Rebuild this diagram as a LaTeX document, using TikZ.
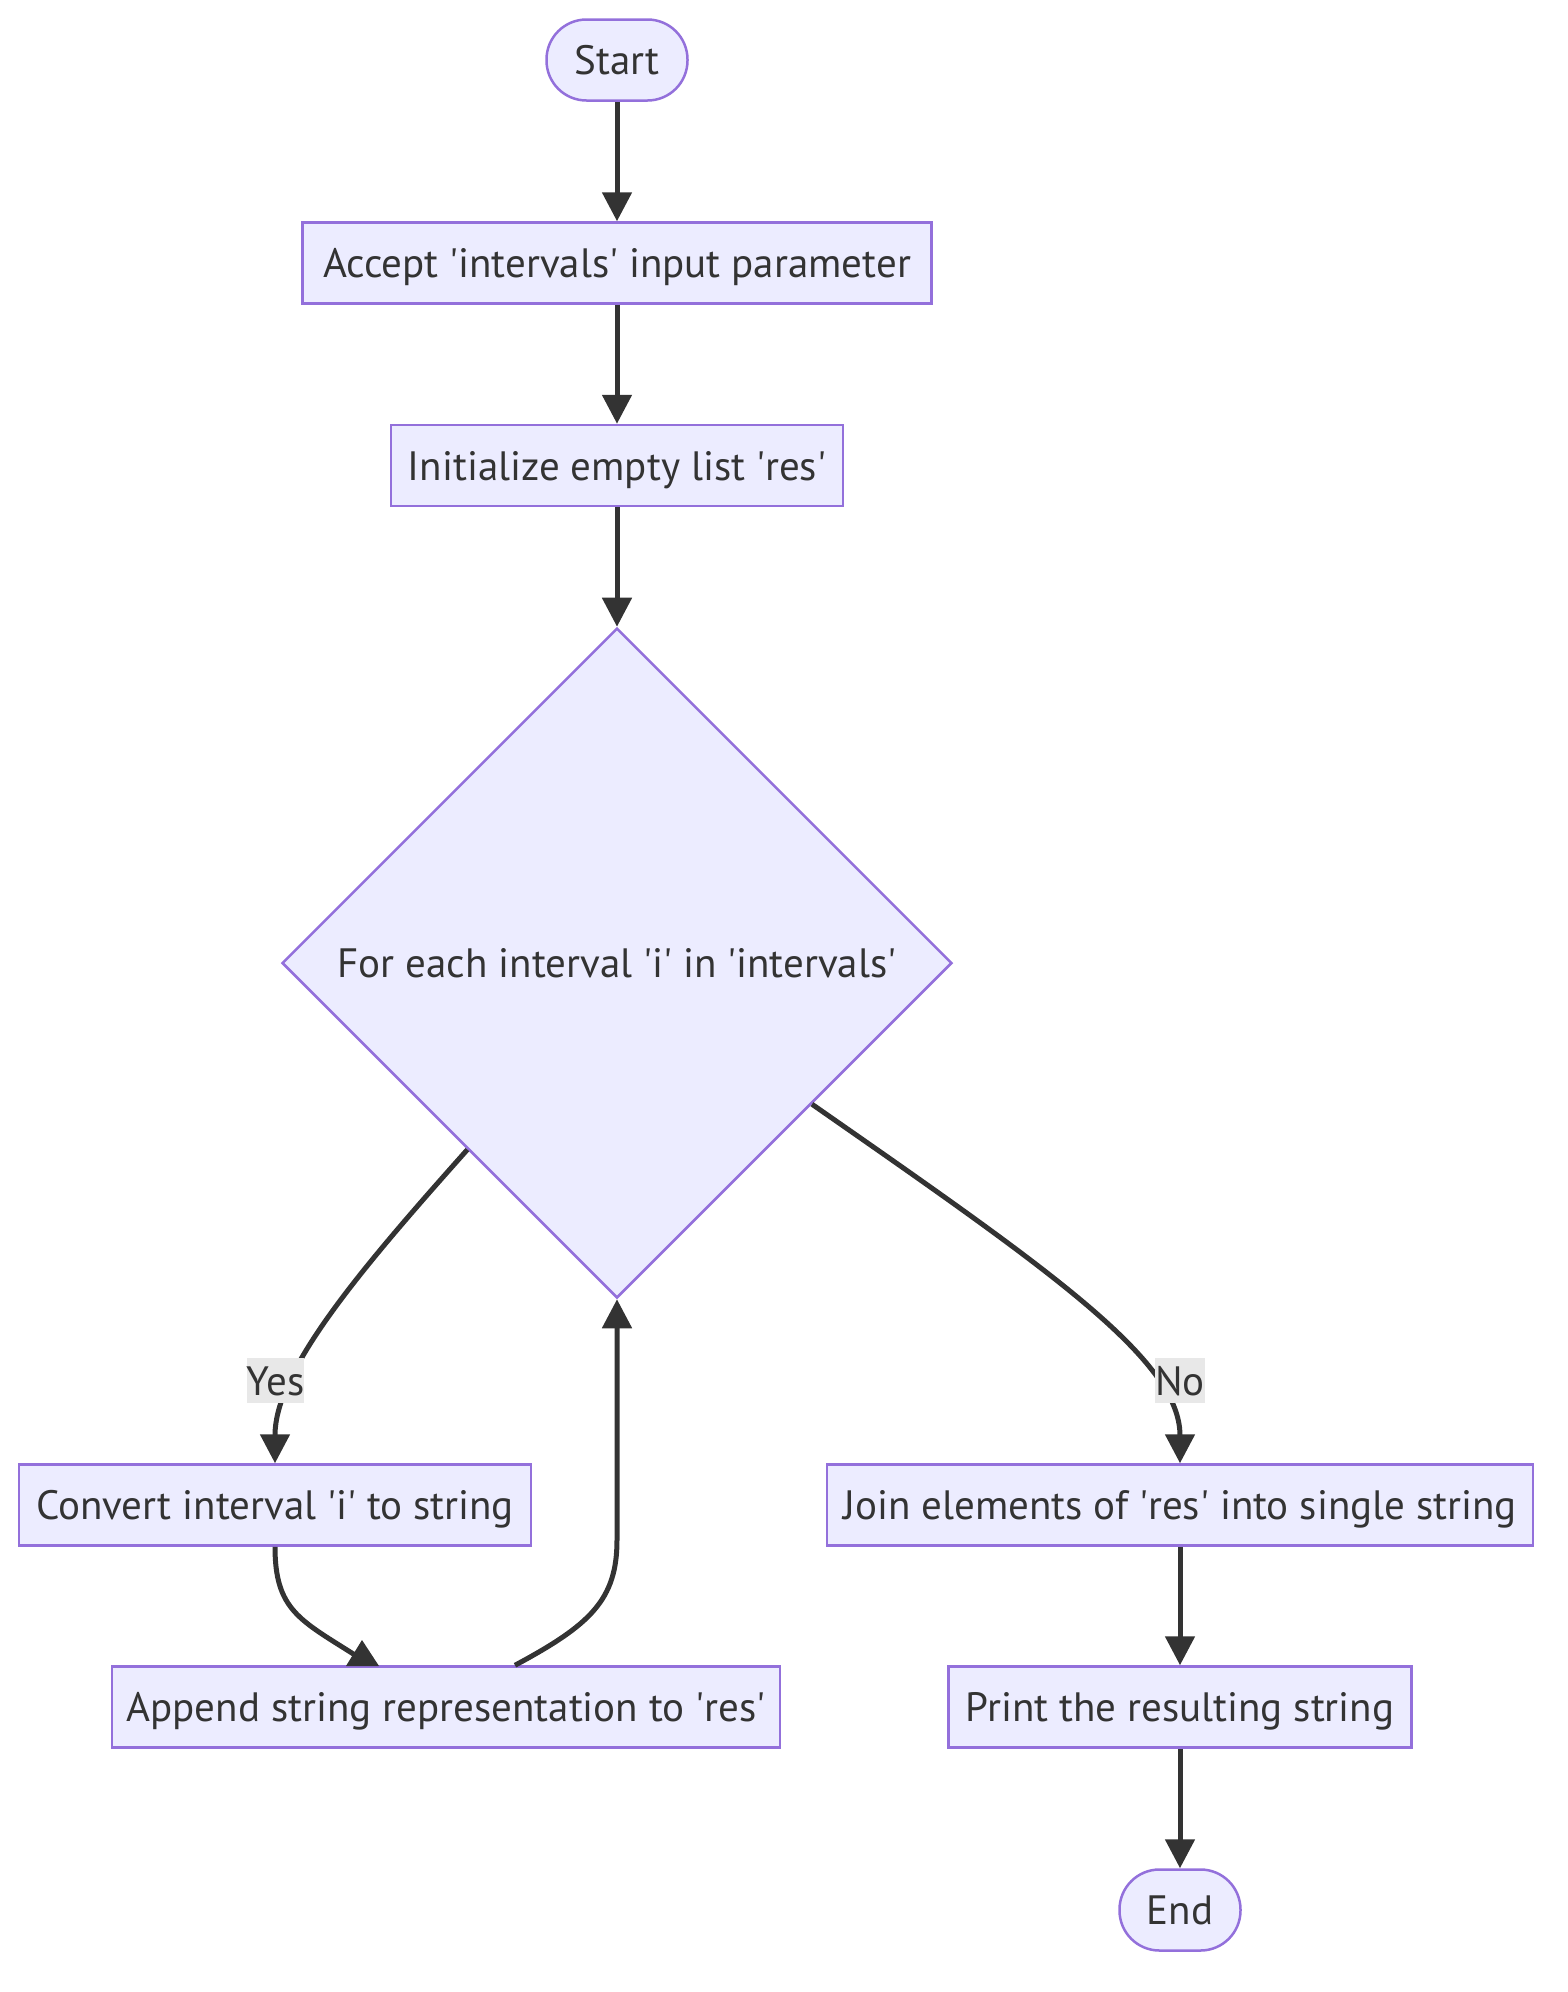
\documentclass[tikz,border=0pt]{standalone}
\usepackage{fontspec}
\setmainfont{PT Sans}
\usetikzlibrary{arrows.meta,shapes.geometric,calc}
\definecolor{nodefill}{HTML}{ECECFF}
\definecolor{nodeline}{HTML}{9370DB}
\definecolor{edgecol}{HTML}{333333}
\definecolor{lblbg}{HTML}{E8E8E8}
\newcommand{\q}{\textquotesingle}
\tikzset{
  txt/.style={text=edgecol, font=\fontsize{41}{49}\selectfont, text height=29pt, text depth=0pt},
  box/.style={txt, draw=nodeline, fill=nodefill, line width=2.5pt, minimum height=81pt, inner sep=0pt},
  term/.style={box, rounded corners=40pt},
  decision/.style={box, diamond, shape aspect=1, minimum width=670pt, minimum height=670pt},
  link/.style={draw=edgecol, line width=5pt},
  flow/.style={link, -{Triangle[length=29pt,width=29pt]}},
  lbl/.style={txt, fill=lblbg, inner sep=0pt, minimum height=45pt}
}
\begin{document}
\begin{tikzpicture}[x=1pt, y=-1pt]
\useasboundingbox (0,0) rectangle (1568,1992);
\node[term, minimum width=141pt] (start) at (617,60) {Start};
\node[box, minimum width=629pt] (accept) at (617,263) {Accept \q intervals\q{} input parameter};
\node[box, minimum width=452pt] (init) at (617,465.5) {Initialize empty list \q res\q};
\node[decision] (dec) at (617,963) {For each interval \q i\q{} in \q intervals\q};
\node[box, minimum width=512pt] (conv) at (275,1505) {Convert interval \q i\q{} to string};
\node[box, minimum width=668pt] (app) at (446,1707) {Append string representation to \q res\q};
\node[box, minimum width=706pt] (join) at (1180,1505) {Join elements of \q res\q{} into single string};
\node[box, minimum width=463pt] (print) at (1180,1707) {Print the resulting string};
\node[term, minimum width=121pt] (end) at (1180,1910) {End};

\draw[flow] (start) -- (accept);
\draw[flow] (accept) -- (init);
\draw[flow] (init) -- (dec);
\draw[flow] ($(dec.west)!0.555!(dec.south)$) .. controls (360,1270) and (275,1370) .. (conv.north);
\draw[flow] ($(dec.south)!0.58!(dec.east)$) .. controls (1050,1270) and (1180,1360) .. (join.north);
\coordinate (cain) at (355,1655);
\draw[link] (conv.south) .. controls (275,1610) and (300,1620) .. (cain);
\fill[edgecol] (346,1666) -- (362,1640) -- (379,1666) -- cycle;
\draw[flow] ($(app.north)+(69,0)$) .. controls (590,1625) and (617,1600) .. (617,1540) -- (dec.south);
\draw[flow] (join) -- (print);
\draw[flow] (print) -- (end);

\node[lbl, minimum width=54pt] (yes) at (275.5,1380.5) {Yes};
\node[lbl, minimum width=46pt] (no) at (1180,1380.5) {No};
\end{tikzpicture}
\end{document}
